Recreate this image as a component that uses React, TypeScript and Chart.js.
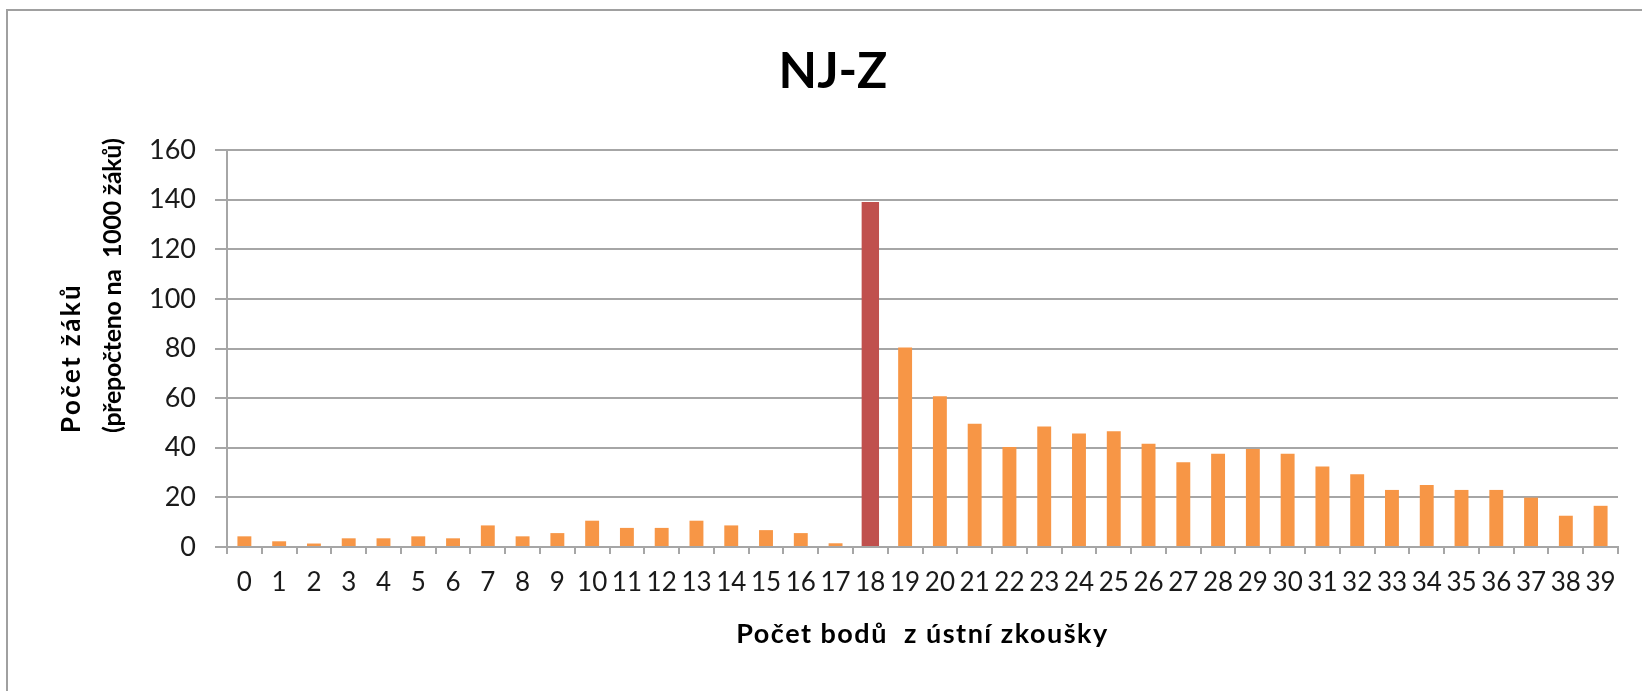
import React, { useEffect, useRef } from "react";
import { Chart, registerables } from "chart.js";

Chart.register(...registerables);

const categories: string[] = Array.from({ length: 40 }, (_, i) => String(i));

const studentCounts: number[] = [
  4.3, 2.3, 1.4, 3.5, 3.5, 4.3, 3.5, 8.7, 4.3, 5.6,
  10.6, 7.7, 7.7, 10.6, 8.7, 6.8, 5.6, 1.5, 139, 80.4,
  60.8, 49.7, 40.3, 48.6, 45.7, 46.6, 41.6, 34.2, 37.6, 39.5,
  37.6, 32.4, 29.3, 23, 25, 23, 23, 19.9, 12.6, 16.6,
];

const highlightIndex = 18;

const chartTitle = "NJ-Z";
const xAxisTitle = "Počet bodů  z ústní zkoušky";
const yAxisTitleLines: string[] = ["Počet žáků", "(přepočteno na  1000 žáků)"];

const ORANGE = "#F79646";
const RED = "#C0504D";
const GRID = "#a6a6a6";
const FONT = "Lato, 'Open Sans', sans-serif";

export default function App() {
  const canvasRef = useRef<HTMLCanvasElement | null>(null);

  useEffect(() => {
    const canvas = canvasRef.current;
    if (!canvas) return;

    const normalData = studentCounts.map((v, i) => (i === highlightIndex ? null : v));
    const highlightData = studentCounts.map((v, i) => (i === highlightIndex ? v : null));

    const textPlugin = {
      id: "customTexts",
      afterDraw(chart: any) {
        const ctx = chart.ctx;
        const area = chart.chartArea;
        ctx.save();
        ctx.fillStyle = "#000";
        ctx.textAlign = "center";
        ctx.textBaseline = "middle";
        ctx.font = `bold 50px ${FONT}`;
        ctx.fillText(chartTitle, 833, 72);

        ctx.font = `bold 27px ${FONT}`;
        (ctx as any).letterSpacing = "1.5px";
        ctx.fillText(xAxisTitle, (area.left + area.right) / 2, 634);

        const xs = [72, 113];
        const sizes = [26, 25];
        const spacings = ["2.4px", "-0.3px"];
        yAxisTitleLines.forEach((line, i) => {
          ctx.save();
          ctx.translate(xs[i], 433);
          ctx.rotate(-Math.PI / 2);
          ctx.textAlign = "left";
          ctx.textBaseline = "middle";
          (ctx as any).letterSpacing = spacings[i];
          ctx.font = `bold ${sizes[i]}px ${FONT}`;
          ctx.fillText(line, 0, 0);
          ctx.restore();
        });
        (ctx as any).letterSpacing = "0px";
        ctx.restore();
      },
    };

    const chart = new Chart(canvas, {
      type: "bar",
      data: {
        labels: categories,
        datasets: [
          {
            data: normalData,
            backgroundColor: ORANGE,
            barPercentage: 0.4,
            categoryPercentage: 1,
            grouped: false,
          } as any,
          {
            data: highlightData,
            backgroundColor: RED,
            barPercentage: 0.5,
            categoryPercentage: 1,
            grouped: false,
          } as any,
        ],
      },
      options: {
        animation: false,
        responsive: false,
        devicePixelRatio: 1,
        layout: { padding: { top: 150, left: 0, right: 24, bottom: 84 } },
        plugins: {
          legend: { display: false },
          title: { display: false },
          tooltip: { enabled: false },
        },
        scales: {
          x: {
            grid: {
              display: true,
              drawOnChartArea: false,
              drawTicks: true,
              tickLength: 7,
              color: GRID,
              lineWidth: 2,
              offset: true,
            },
            border: { display: true, color: GRID, width: 2 },
            ticks: {
              font: { family: FONT, size: 26 },
              color: "#1a1a1a",
              padding: 13,
              maxRotation: 0,
              autoSkip: false,
            },
            afterFit(scale: any) {
              scale.height = 60;
            },
          },
          y: {
            min: 0,
            max: 160,
            ticks: {
              stepSize: 20,
              font: { family: FONT, size: 27 },
              color: "#1a1a1a",
              padding: 19,
            },
            grid: {
              color: GRID,
              lineWidth: 2,
              tickLength: 12,
              drawTicks: true,
            },
            border: { display: true, color: GRID, width: 2 },
            afterFit(scale: any) {
              scale.width = 227;
            },
          },
        },
      },
      plugins: [textPlugin],
    });

    return () => {
      chart.destroy();
    };
  }, []);

  return (
    <div
      style={{
        position: "fixed",
        left: 0,
        top: 0,
        width: 1642,
        height: 691,
        overflow: "hidden",
        background: "#fff",
      }}
    >
      <div
        style={{
          position: "absolute",
          left: 6,
          top: 9,
          width: 1720,
          height: 760,
          border: "2px solid #a0a0a0",
        }}
      />
      <canvas
        ref={canvasRef}
        width={1642}
        height={691}
        style={{ position: "absolute", left: 0, top: 0, width: 1642, height: 691 }}
      />
    </div>
  );
}
